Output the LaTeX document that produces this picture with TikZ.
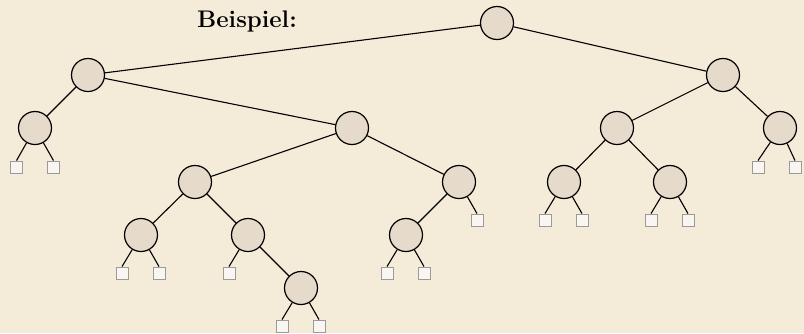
\documentclass[tikz,border=0pt]{standalone}
\usepackage{fontspec}
\begin{document}
\begin{tikzpicture}[x=1pt,y=-1pt,
  inner/.style={circle,draw=black,fill=nodefill,line width=1.2pt,minimum size=33pt,inner sep=0pt},
  leaf/.style={rectangle,draw=leafgray,fill=leaffill,line width=0.9pt,minimum size=12pt,inner sep=0pt},
  edge/.style={line width=1.1pt,draw=black}]
\definecolor{bg}{HTML}{F5EBD9}
\definecolor{nodefill}{HTML}{E6DACA}
\definecolor{leaffill}{HTML}{F9F6F1}
\definecolor{leafgray}{HTML}{9A9A9A}
\fill[bg] (0,0) rectangle (804,333);
\useasboundingbox (0,0) rectangle (804,333);
\node[font=\bfseries\fontsize{24}{28}\selectfont,inner sep=0pt,anchor=base] (title) at (247,27) {Beispiel:};
% inner nodes
\node[inner] (r) at (497,23) {};
\node[inner] (a) at (88,75) {};
\node[inner] (b) at (723,75) {};
\node[inner] (aa) at (35,128) {};
\node[inner] (ab) at (352,128) {};
\node[inner] (ba) at (617,128) {};
\node[inner] (bb) at (780,128) {};
\node[inner] (aba) at (195,182) {};
\node[inner] (abb) at (459,182) {};
\node[inner] (baa) at (564,182) {};
\node[inner] (bab) at (670,182) {};
\node[inner] (abaa) at (141,235) {};
\node[inner] (abab) at (248,235) {};
\node[inner] (abba) at (406,235) {};
\node[inner] (ababb) at (301,288) {};
% leaves
\node[leaf] (l1) at (16.5,167) {};
\node[leaf] (l2) at (53.5,167) {};
\node[leaf] (l3) at (758,167) {};
\node[leaf] (l4) at (795,167) {};
\node[leaf] (l5) at (122,273) {};
\node[leaf] (l6) at (159,273) {};
\node[leaf] (l7) at (229,273) {};
\node[leaf] (l8) at (387,273) {};
\node[leaf] (l9) at (424,273) {};
\node[leaf] (l10) at (477,220) {};
\node[leaf] (l11) at (545,220) {};
\node[leaf] (l12) at (582,220) {};
\node[leaf] (l13) at (651,220) {};
\node[leaf] (l14) at (688,220) {};
\node[leaf] (l15) at (282,326) {};
\node[leaf] (l16) at (319,326) {};
% edges
\draw[edge] (r) -- (a);
\draw[edge] (r) -- (b);
\draw[edge] (a) -- (aa);
\draw[edge] (a) -- (ab);
\draw[edge] (b) -- (ba);
\draw[edge] (b) -- (bb);
\draw[edge] (ab) -- (aba);
\draw[edge] (ab) -- (abb);
\draw[edge] (ba) -- (baa);
\draw[edge] (ba) -- (bab);
\draw[edge] (aba) -- (abaa);
\draw[edge] (aba) -- (abab);
\draw[edge] (abb) -- (abba);
\draw[edge] (abab) -- (ababb);
\draw[edge] (aa) -- (l1.north);
\draw[edge] (aa) -- (l2.north);
\draw[edge] (bb) -- (l3.north);
\draw[edge] (bb) -- (l4.north);
\draw[edge] (abaa) -- (l5.north);
\draw[edge] (abaa) -- (l6.north);
\draw[edge] (abab) -- (l7.north);
\draw[edge] (abba) -- (l8.north);
\draw[edge] (abba) -- (l9.north);
\draw[edge] (abb) -- (l10.north);
\draw[edge] (baa) -- (l11.north);
\draw[edge] (baa) -- (l12.north);
\draw[edge] (bab) -- (l13.north);
\draw[edge] (bab) -- (l14.north);
\draw[edge] (ababb) -- (l15.north);
\draw[edge] (ababb) -- (l16.north);
\end{tikzpicture}
\end{document}
